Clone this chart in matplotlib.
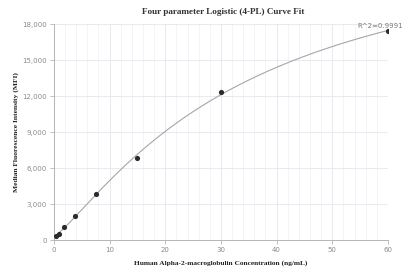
import numpy as np
import matplotlib
matplotlib.use("Agg")
import matplotlib.pyplot as plt
from matplotlib.ticker import MultipleLocator, FuncFormatter

# Standardipisteet (pitoisuus ng/mL, MFI)
concentration = [0.469, 0.938, 1.875, 3.75, 7.5, 15, 30, 60]
mfi = [360, 530, 1110, 2040, 3870, 6850, 12380, 17420]
r2_label = "R^2=0.9991"

title = "Four parameter Logistic (4-PL) Curve Fit"
x_label = "Human Alpha-2-macroglobulin Concentration (ng/mL)"
y_label = "Median Fluorescence Intensity (MFI)"


def fit_4pl(x, y):
    # b ja c hilahaulla, a ja d lineaarisesti pienimmän neliösumman mukaan
    x = np.asarray(x, float)
    y = np.asarray(y, float)
    best = None
    for b in np.linspace(0.8, 2.5, 70):
        for c in np.linspace(10, 150, 141):
            g = 1.0 / (1.0 + (x / c) ** b)
            A = np.column_stack([g, 1 - g])
            coef, *_ = np.linalg.lstsq(A, y, rcond=None)
            err = np.sum((A @ coef - y) ** 2)
            if best is None or err < best[0]:
                best = (err, coef[0], coef[1], b, c)
    _, a, d, b, c = best
    return lambda t: d + (a - d) / (1.0 + (t / c) ** b)


curve = fit_4pl(concentration, mfi)
xs = np.linspace(0.3, 60, 400)

fig = plt.figure(figsize=(4.05, 2.71), dpi=100)
ax = fig.add_axes([0.133, 0.114, 0.825, 0.796])

ax.plot(xs, curve(xs), color="#a6a6a6", lw=0.8, zorder=2)
ax.scatter(concentration, mfi, s=14, color="#2b2b2b", zorder=3, linewidths=0)

ax.set_xlim(0, 60)
ax.set_ylim(0, 18000)
ax.xaxis.set_major_locator(MultipleLocator(10))
ax.xaxis.set_minor_locator(MultipleLocator(2))
ax.yaxis.set_major_locator(MultipleLocator(3000))
ax.yaxis.set_major_formatter(FuncFormatter(lambda v, p: f"{int(v):,}"))

ax.grid(which="major", color="#e3e6ef", lw=0.6)
ax.grid(which="minor", axis="x", color="#eef0f6", lw=0.5)
ax.set_axisbelow(True)

for s in ["top", "right"]:
    ax.spines[s].set_visible(False)
for s in ["left", "bottom"]:
    ax.spines[s].set_color("#b5b5b5")
    ax.spines[s].set_linewidth(0.7)

ax.tick_params(which="major", length=3, width=0.6, color="#b5b5b5",
               labelsize=5, labelcolor="#8a8a8a", pad=2)
ax.tick_params(which="minor", length=0)

serif = "Liberation Serif"
fig.text(0.552, 0.955, title, ha="center", va="center", fontsize=6.6,
         fontweight="bold", family=serif, color="#333333")
ax.set_xlabel(x_label, fontsize=5.3, fontweight="bold", family=serif,
              color="#222222", labelpad=5)
ax.set_ylabel(y_label, fontsize=5.4, fontweight="bold", family=serif,
              color="#222222", labelpad=2)

ax.annotate(r2_label, xy=(concentration[-1], mfi[-1]), xytext=(11, 2),
            textcoords="offset points", ha="right", va="bottom",
            fontsize=5, color="#777777", annotation_clip=False)

fig.savefig("out.png", dpi=100)
